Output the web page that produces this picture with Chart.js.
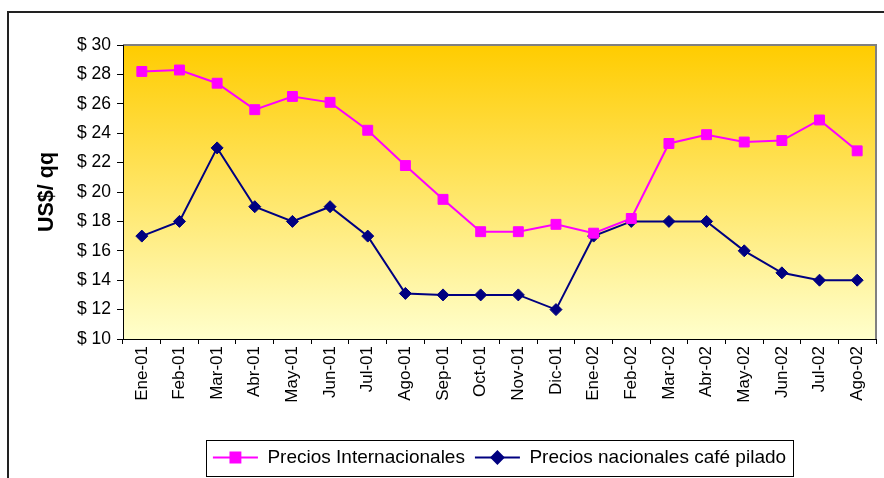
<!DOCTYPE html>
<html>
<head>
<meta charset="utf-8">
<script src="https://cdn.jsdelivr.net/npm/chart.js@4.4.1/dist/chart.umd.min.js"></script>
<style>
    html, body { margin: 0; padding: 0; background: #fff; }
    #wrap { position: relative; width: 884px; height: 478px; }
</style>
</head>
<body>
<div id="wrap"><canvas id="mainChart" width="884" height="478"></canvas></div>
<script>
    // Chart data
    const months = ['Ene-01', 'Feb-01', 'Mar-01', 'Abr-01', 'May-01', 'Jun-01', 'Jul-01', 'Ago-01', 'Sep-01', 'Oct-01',
        'Nov-01', 'Dic-01', 'Ene-02', 'Feb-02', 'Mar-02', 'Abr-02', 'May-02', 'Jun-02', 'Jul-02', 'Ago-02'];
    const preciosInternacionales = [28.2, 28.3, 27.4, 25.6, 26.5, 26.1, 24.2, 21.8, 19.5, 17.3,
        17.3, 17.8, 17.2, 18.2, 23.3, 23.9, 23.4, 23.5, 24.9, 22.8];
    const preciosNacionales = [17, 18, 23, 19, 18, 19, 17, 13.1, 13, 13,
        13, 12, 17, 18, 18, 18, 16, 14.5, 14, 14];
    const yTicks = { min: 10, max: 30, step: 2 };

    const FONT = "'Liberation Sans', Arial, sans-serif";

    // plot background gradient + grey frame, outer chart border, legend box + line symbols
    const decorPlugin = {
        id: 'decor',
        beforeDatasetsDraw(chart) {
            const { ctx, chartArea: a } = chart;
            ctx.save();
            const g = ctx.createLinearGradient(0, a.top, 0, a.bottom);
            g.addColorStop(0, '#FFCC00');
            g.addColorStop(1, '#FFFFCC');
            ctx.fillStyle = g;
            ctx.fillRect(a.left, a.top, a.right - a.left, a.bottom - a.top);
            ctx.strokeStyle = '#808080';
            ctx.lineWidth = 2;
            ctx.beginPath();
            ctx.moveTo(a.left, a.top);
            ctx.lineTo(a.right, a.top);
            ctx.lineTo(a.right, a.bottom);
            ctx.stroke();
            ctx.strokeStyle = '#000';
            ctx.lineWidth = 1;
            ctx.beginPath();
            ctx.moveTo(a.left + 0.5, a.top);
            ctx.lineTo(a.left + 0.5, a.bottom + 0.5);
            ctx.lineTo(a.right, a.bottom + 0.5);
            ctx.stroke();
            ctx.restore();
        },
        afterDraw(chart) {
            const { ctx } = chart;
            ctx.save();
            // outer border
            ctx.strokeStyle = '#222';
            ctx.lineWidth = 2;
            ctx.beginPath();
            ctx.moveTo(8, chart.height);
            ctx.lineTo(8, 12);
            ctx.lineTo(chart.width, 12);
            ctx.stroke();

            // legend frame and symbols
            const lg = chart.legend;
            const boxes = lg.legendHitBoxes;
            if (boxes && boxes.length) {
                const left = boxes[0].left - 7;
                const last = boxes[boxes.length - 1];
                const right = last.left + last.width + 7;
                const top = 440;
                const bottom = 476;
                ctx.strokeStyle = '#000';
                ctx.lineWidth = 1;
                ctx.strokeRect(Math.round(left) + 0.5, top + 0.5, Math.round(right - left), bottom - top);
                const bw = lg.options.labels.boxWidth;
                boxes.forEach((hb, i) => {
                    const ds = chart.data.datasets[i];
                    const cy = hb.top + hb.height / 2;
                    ctx.strokeStyle = ds.borderColor;
                    ctx.lineWidth = 2;
                    ctx.beginPath();
                    ctx.moveTo(hb.left, cy);
                    ctx.lineTo(hb.left + bw, cy);
                    ctx.stroke();
                    ctx.fillStyle = ds.pointBackgroundColor;
                    ctx.strokeStyle = ds.pointBorderColor;
                    Chart.helpers.drawPoint(ctx, {
                        pointStyle: ds.pointStyle, radius: ds.pointRadius, borderWidth: 1, rotation: 0
                    }, hb.left + bw / 2, cy);
                });
            }
            ctx.restore();
        }
    };

    const ctx = document.getElementById('mainChart').getContext('2d');
    const mainChart = new Chart(ctx, {
        type: 'line',
        data: {
            labels: months,
            datasets: [{
                label: 'Precios Internacionales',
                data: preciosInternacionales,
                borderColor: '#FF00FF',
                borderWidth: 2,
                pointStyle: 'rect',
                pointRadius: 7,
                pointBackgroundColor: '#FF00FF',
                pointBorderColor: '#FF00FF',
                pointBorderWidth: 1,
                tension: 0
            }, {
                label: 'Precios nacionales café pilado',
                data: preciosNacionales,
                borderColor: '#000080',
                borderWidth: 2,
                pointStyle: 'rectRot',
                pointRadius: 6,
                pointBackgroundColor: '#000080',
                pointBorderColor: '#000080',
                pointBorderWidth: 1,
                tension: 0
            }]
        },
        options: {
            responsive: false,
            animation: false,
            layout: { padding: { left: 0, right: 3, top: 45, bottom: 1 } },
            plugins: {
                tooltip: { enabled: false },
                legend: {
                    position: 'bottom',
                    fullSize: false,
                    labels: {
                        color: '#000',
                        font: { family: FONT, size: 19 },
                        boxWidth: 45,
                        boxHeight: 15,
                        padding: 10,
                        generateLabels: (chart) => chart.data.datasets.map((ds, i) => ({
                            text: ds.label,
                            fillStyle: 'rgba(0,0,0,0)',
                            strokeStyle: 'rgba(0,0,0,0)',
                            lineWidth: 0,
                            datasetIndex: i
                        }))
                    }
                }
            },
            scales: {
                x: {
                    offset: true,
                    grid: { offset: true, drawOnChartArea: false, color: '#000', tickLength: 5 },
                    border: { color: '#000' },
                    ticks: {
                        color: '#000',
                        font: { family: FONT, size: 17 },
                        minRotation: 90,
                        maxRotation: 90,
                        autoSkip: false,
                        padding: 2
                    },
                    afterFit: (scale) => { scale.height = 99; }
                },
                y: {
                    min: yTicks.min,
                    max: yTicks.max,
                    grid: { drawOnChartArea: false, color: '#000', tickLength: 6 },
                    border: { color: '#000' },
                    ticks: {
                        stepSize: yTicks.step,
                        color: '#000',
                        font: { family: FONT, size: 17.5 },
                        padding: 6,
                        callback: (v) => '$ ' + v
                    },
                    title: {
                        display: true,
                        text: 'US$/ qq',
                        color: '#000',
                        font: { family: FONT, size: 21.5, weight: 'bold' },
                        padding: { top: 34, bottom: 0 }
                    },
                    afterFit: (scale) => { scale.width = 123; }
                }
            }
        },
        plugins: [decorPlugin]
    });
</script>
</body>
</html>
